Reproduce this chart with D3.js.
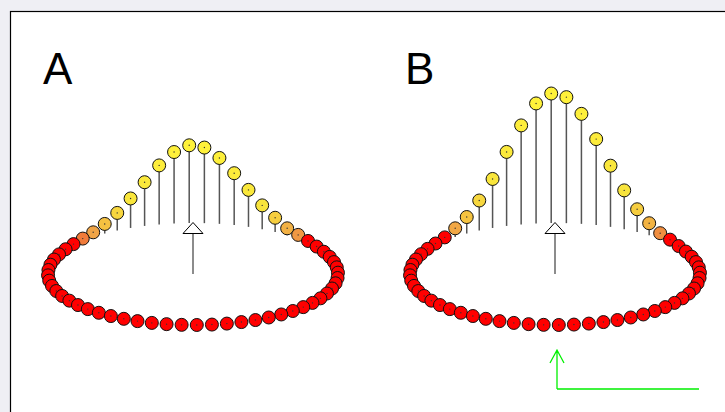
<!DOCTYPE html>
<html>
<head>
<meta charset="utf-8">
<script src="https://cdn.jsdelivr.net/npm/d3@7"></script>
<style>
  body { margin: 0; background: #efeff4; }
  svg { display: block; }
</style>
</head>
<body>
<script>
var w = 725;
var h = 412;

// 60 points on a ring, index k sits at 1.5 + 6k degrees (k 0..29 = back half)
var ringIndex = d3.range(60);
var panelLabels = ["A", "B"];

// heights of the back-half points (front half is all 0)
var heightsA = [0, 0, 0, 0.1, 0.3, 0.8, 2.0, 4.0, 6.9, 14.2,
                23.8, 37, 51.9, 65.9, 75.6, 77.7, 71.4, 59, 43.7, 29.5,
                17.6, 9.6, 4.7, 2.3, 1.0, 0.4, 0.1, 0, 0, 0];
var heightsB = [0, 0, 0, 0.2, 0.5, 1.3, 3.3, 5.7, 12, 22.7,
                38.8, 61.2, 86, 110, 126, 129.5, 120, 99, 74, 49,
                30, 16.5, 8.7, 3.5, 1.6, 0.8, 0.3, 0, 0, 0];

var svg = d3.select("body")
            .append("svg")
              .attr("width", w)
              .attr("height", h);

svg.append("rect")
    .attr("x", 10.5).attr("y", 11.5)
    .attr("width", 800).attr("height", 500)
    .attr("fill", "#fff")
    .attr("stroke", "#000")
    .attr("stroke-width", 1.2);

var color = d3.scaleLinear()
              .domain([0, 0.028, 0.029, 0.06, 0.13, 0.3, 1])
              .range(["#ff0000", "#ff0000", "#f07a3a", "#f0a446", "#f5c440", "#f8e43c", "#fff23a"])
              .clamp(true);

var hScale = d3.scaleLinear().domain([0, 1]).range([0, 1]);

function drawPanel(label, heights, cx, labelX) {
  var cy = 274, rx = 145, ry = 51;
  var xs = d3.scaleLinear().domain([-1, 1]).range([cx - rx, cx + rx]);
  var ys = d3.scaleLinear().domain([-1, 1]).range([cy + ry, cy - ry]);
  var maxH = d3.max(heights);

  var pts = ringIndex.map(function(k) {
    var a = (1.5 + 6 * k) * Math.PI / 180;
    var v = k < 30 ? heights[k] : 0;
    return { x: xs(Math.cos(a)), base: ys(Math.sin(a)), depth: Math.sin(a), v: v };
  });
  pts.sort(function(a, b) { return b.depth - a.depth; });

  var g = svg.append("g");

  g.append("text")
    .attr("x", labelX).attr("y", 84)
    .attr("font-family", "Liberation Sans, Arial, sans-serif")
    .attr("font-size", 44)
    .text(label);

  var node = g.selectAll(".pt")
    .data(pts)
    .enter()
    .append("g")
      .attr("class", "pt");

  node.filter(function(d) { return d.v > 0.5; })
    .append("line")
      .attr("x1", function(d) { return d.x; })
      .attr("x2", function(d) { return d.x; })
      .attr("y1", function(d) { return d.base; })
      .attr("y2", function(d) { return d.base - hScale(d.v); })
      .attr("stroke", "#555")
      .attr("stroke-width", 1.5);

  node.append("circle")
    .attr("cx", function(d) { return d.x; })
    .attr("cy", function(d) { return d.base - hScale(d.v); })
    .attr("r", 6.5)
    .attr("fill", function(d) { return color(d.v / maxH); })
    .attr("stroke", "#111")
    .attr("stroke-width", 1);

  node.append("circle")
    .attr("cx", function(d) { return d.x; })
    .attr("cy", function(d) { return d.base - hScale(d.v); })
    .attr("r", 0.7)
    .attr("fill", "#333");

  // centre arrow
  g.append("line")
    .attr("x1", cx).attr("x2", cx)
    .attr("y1", cy).attr("y2", 233)
    .attr("stroke", "#666")
    .attr("stroke-width", 1.5);
  g.append("path")
    .attr("d", "M" + (cx - 10) + ",233.5L" + cx + ",222.5L" + (cx + 10) + ",233.5Z")
    .attr("fill", "#fff")
    .attr("stroke", "#000")
    .attr("stroke-width", 1);
}

drawPanel(panelLabels[0], heightsA, 193, 43);
drawPanel(panelLabels[1], heightsB, 555, 405);

// green axis
svg.append("path")
    .attr("d", "M557,389V350M550,363L557,350L564,363M557,389H699")
    .attr("fill", "none")
    .attr("stroke", "#00f000")
    .attr("stroke-width", 1.3);
</script>
</body>
</html>
